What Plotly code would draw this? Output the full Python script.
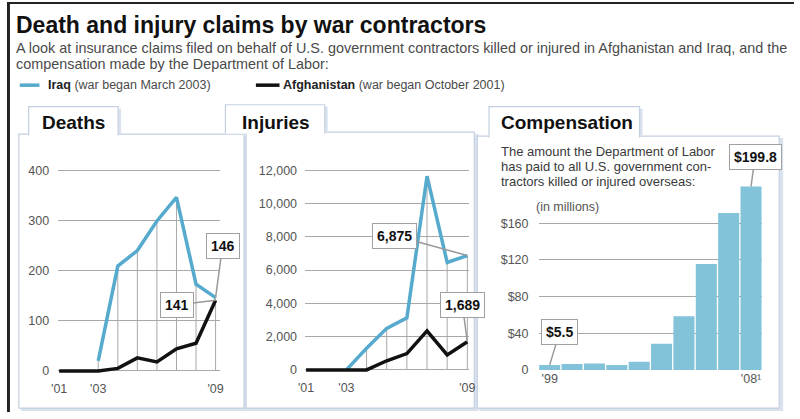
import plotly.graph_objects as go

# ---------------- data ----------------
line_years = [2001, 2002, 2003, 2004, 2005, 2006, 2007, 2008, 2009]
deaths_iraq = [None, None, 20, 209, 240, 299, 346, 173, 146]
deaths_afgh = [0, 0, 0, 5, 26, 18, 44, 55, 141]
injuries_iraq = [None, None, 0, 1300, 2500, 3130, 11650, 6460, 6875]
injuries_afgh = [0, 0, 0, 0, 550, 980, 2350, 900, 1689]
line_tickvals = [2001, 2003, 2009]
line_ticktext = ["'01", "'03", "'09"]
deaths_ticks = [0, 100, 200, 300, 400]
injury_ticks = [0, 2000, 4000, 6000, 8000, 10000, 12000]
injury_ticktext = ["0", "2,000", "4,000", "6,000", "8,000", "10,000", "12,000"]

comp_years = [1999, 2000, 2001, 2002, 2003, 2004, 2005, 2006, 2007, 2008]
comp_values = [5.5, 6.5, 7, 5.5, 9, 28.5, 58.5, 115.5, 171, 199.8]
comp_ticks = [0, 40, 80, 120, 160]
comp_ticktext = ["0", "$40", "$80", "$120", "$160"]
comp_xticks = [1999, 2008]
comp_xticktext = ["'99", "'08\u00b9"]

IRAQ = "#55aacd"
AFGH = "#111111"
BAR = "#82c3da"
GRID = "#a8a8a8"
TICKC = "#555555"
FONT = "Liberation Sans, Arial, sans-serif"

W, H = 800, 419


def px(x):
    return x / W


def py(y):
    return 1 - y / H


def drops(xs, ys):
    ox, oy = [], []
    for x, y in zip(xs, ys):
        if y is None or y == 0:
            continue
        ox += [x, x, None]
        oy += [0, y, None]
    return ox, oy


fig = go.Figure()

# Deaths
dx, dy = drops(line_years, deaths_iraq)
fig.add_trace(go.Scatter(x=dx, y=dy, mode="lines", line=dict(color=GRID, width=1),
                         xaxis="x", yaxis="y", hoverinfo="skip"))
fig.add_trace(go.Scatter(x=line_years, y=deaths_iraq, mode="lines", line=dict(color=IRAQ, width=3.5),
                         xaxis="x", yaxis="y", name="Iraq"))
fig.add_trace(go.Scatter(x=line_years, y=deaths_afgh, mode="lines", line=dict(color=AFGH, width=3.5),
                         xaxis="x", yaxis="y", name="Afghanistan"))

# Injuries
ix, iy = drops(line_years, injuries_iraq)
fig.add_trace(go.Scatter(x=ix, y=iy, mode="lines", line=dict(color=GRID, width=1),
                         xaxis="x2", yaxis="y2", hoverinfo="skip"))
fig.add_trace(go.Scatter(x=line_years, y=injuries_iraq, mode="lines", line=dict(color=IRAQ, width=3.5),
                         xaxis="x2", yaxis="y2", name="Iraq"))
fig.add_trace(go.Scatter(x=line_years, y=injuries_afgh, mode="lines", line=dict(color=AFGH, width=3.5),
                         xaxis="x2", yaxis="y2", name="Afghanistan"))

# Compensation
fig.add_trace(go.Bar(x=comp_years, y=comp_values, marker=dict(color=BAR, line=dict(width=0)),
                     xaxis="x3", yaxis="y3", name="Compensation"))

tickfont = dict(family=FONT, size=12.5, color=TICKC)

xcommon = dict(showgrid=False, zeroline=False, showline=False, ticks="", tickfont=tickfont, fixedrange=True)
ycommon = dict(showgrid=True, gridcolor=GRID, gridwidth=1, zeroline=False, showline=False, ticks="",
               tickfont=tickfont, fixedrange=True)

fig.update_layout(
    width=W, height=H, autosize=False,
    margin=dict(l=0, r=0, t=0, b=0),
    paper_bgcolor="white", plot_bgcolor="rgba(0,0,0,0)",
    showlegend=False,
    font=dict(family=FONT),
    bargap=0.06,
    xaxis=dict(xcommon, domain=[px(52), px(217)], range=[2000.95, 2009.25],
               tickvals=line_tickvals, ticktext=line_ticktext, anchor="y", ticklabelstandoff=4),
    yaxis=dict(ycommon, domain=[py(382.1), py(166.9)], range=[-10, 410], tickvals=deaths_ticks,
               anchor="x", ticklabelstandoff=8),
    xaxis2=dict(xcommon, domain=[px(303), px(470)], range=[2000.95, 2009.1],
                tickvals=line_tickvals, ticktext=line_ticktext, anchor="y2", ticklabelstandoff=4),
    yaxis2=dict(ycommon, domain=[py(381.1), py(166.9)], range=[-300, 12300], tickvals=injury_ticks,
                ticktext=injury_ticktext, anchor="x2", ticklabelstandoff=7),
    xaxis3=dict(xcommon, domain=[px(540.3), px(767.7)], range=[1998.5, 2008.5],
                tickvals=comp_xticks, ticktext=comp_xticktext, anchor="y3", ticklabelstandoff=0),
    yaxis3=dict(ycommon, domain=[py(376), py(183.8)], range=[0, 205], tickvals=comp_ticks,
                ticktext=comp_ticktext, anchor="x3", ticklabelstandoff=9),
)

shapes = []
PANEL_LINE = "#c3d0e0"
SHADOW = "#d9e2ee"

# outer frame (dark top and left edges)
shapes.append(dict(type="rect", xref="paper", yref="paper", x0=0, x1=1, y0=py(2), y1=1,
                   fillcolor="#222222", line=dict(width=0), layer="below"))
shapes.append(dict(type="rect", xref="paper", yref="paper", x0=0, x1=px(3), y0=0, y1=1,
                   fillcolor="#222222", line=dict(width=0), layer="below"))

panels = [(12, 241, 135, 415), (243, 475, 133, 415), (478, 785, 137, 415)]
tabs = [(22, 113, 107), (222, 323, 105), (490, 643, 107)]
for (x0, x1, y0, y1) in panels:
    shapes.append(dict(type="rect", xref="paper", yref="paper", x0=px(x0 + 2), x1=px(x1 + 4),
                       y0=py(y1 + 3), y1=py(y0 + 2), fillcolor=SHADOW, line=dict(width=0), layer="below"))
    shapes.append(dict(type="rect", xref="paper", yref="paper", x0=px(x0), x1=px(x1),
                       y0=py(y1), y1=py(y0), fillcolor="white", line=dict(color=PANEL_LINE, width=1.2),
                       layer="below"))
for (tx0, tx1, ty0), (_, _, py0, _) in zip(tabs, panels):
    shapes.append(dict(type="rect", xref="paper", yref="paper", x0=px(tx1), x1=px(tx1 + 3),
                       y0=py(py0), y1=py(ty0 + 2), fillcolor=SHADOW, line=dict(width=0), layer="below"))
    path = "M {a},{b} L {a},{c} L {d},{c} L {d},{b}".format(
        a=px(tx0), b=py(py0 + 1.5), c=py(ty0), d=px(tx1))
    shapes.append(dict(type="path", xref="paper", yref="paper", path=path, fillcolor="white",
                       line=dict(color=PANEL_LINE, width=1.2), layer="below"))

# legend swatches
shapes.append(dict(type="line", xref="paper", yref="paper", x0=px(13), x1=px(33), y0=py(85), y1=py(85),
                   line=dict(color=IRAQ, width=3.5)))
shapes.append(dict(type="line", xref="paper", yref="paper", x0=px(253), x1=px(277), y0=py(85), y1=py(85),
                   line=dict(color=AFGH, width=3.5)))

fig.update_layout(shapes=shapes)

ann = []


def text(x, y, s, size, color="#000", anchor="left", bold=False):
    ann.append(dict(xref="paper", yref="paper", x=px(x), y=py(y), text=("<b>%s</b>" % s) if bold else s,
                    showarrow=False, xanchor=anchor, yanchor="middle",
                    font=dict(family=FONT, size=size, color=color)))


text(7, 23, "Death and injury claims by war contractors", 23, "#111", bold=True)
text(7, 47, "A look at insurance claims filed on behalf of U.S. government contractors killed or injured in "
            "Afghanistan and Iraq, and the", 14.4, "#4a4a4a")
text(7, 63, "compensation made by the Department of Labor:", 14.4, "#4a4a4a")
text(40, 85, "<b style='color:#222'>Iraq</b> (war began March 2003)", 12.5, "#4a4a4a")
text(279, 85, "<b style='color:#222'>Afghanistan</b> (war began October 2001)", 12.5, "#4a4a4a")

text(34, 123, "Deaths", 19, "#111", bold=True)
text(237, 123, "Injuries", 19, "#111", bold=True)
text(500, 123, "Compensation", 19, "#111", bold=True)

text(500, 153, "The amount the Department of Labor", 13, "#3a3a3a")
text(500, 168, "has paid to all U.S. government con-", 13, "#3a3a3a")
text(500, 183, "tractors killed or injured overseas:", 13, "#3a3a3a")
text(536, 210, "(in millions)", 12.5, TICKC)


def callout(xref, yref, x, y, label, ax, ay):
    ann.append(dict(xref=xref, yref=yref, x=x, y=y, text="<b>%s</b>" % label, showarrow=True,
                    arrowhead=0, arrowwidth=1.5, arrowcolor="#9a9a9a", ax=ax, ay=ay,
                    bgcolor="white", bordercolor="#a0a0a0", borderwidth=1, borderpad=4,
                    font=dict(family=FONT, size=14, color="#111")))


callout("x", "y", 2009, deaths_iraq[-1], "146", 7, -52)
callout("x", "y", 2009, deaths_afgh[-1], "141", -39, 5)
callout("x2", "y2", 2009, injuries_iraq[-1], "6,875", -73, -20)
callout("x2", "y2", 2009, injuries_afgh[-1], "1,689", -5, -37)
callout("x3", "y3", comp_years[-1], comp_values[-1], "$199.8", 4, -30)
callout("x3", "y3", comp_years[0], comp_values[0], "$5.5", 10, -33)

fig.update_layout(annotations=ann)

fig.write_html("out.html")
